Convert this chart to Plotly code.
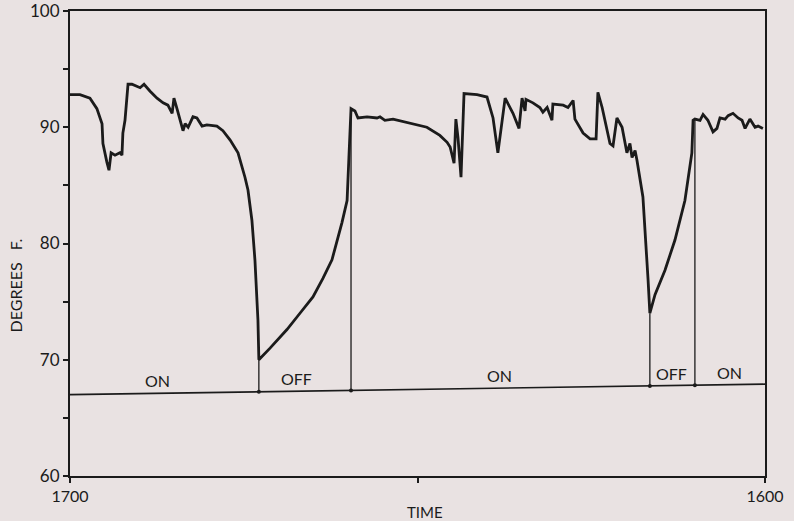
import numpy as np
import plotly.graph_objects as go

# Time in hours after 1700 (chart runs 1700 -> 1600 next day), temperature in deg F
hours = [0.00, 0.33, 0.66, 0.89, 1.06, 1.09, 1.22, 1.29, 1.36, 1.49, 1.65, 1.72, 1.75, 1.82,
         1.92, 2.05, 2.32, 2.45, 2.65, 2.88, 3.08, 3.24, 3.38, 3.44, 3.54, 3.74, 3.81, 3.91,
         4.07, 4.20, 4.37, 4.53, 4.86, 5.06, 5.30, 5.56, 5.79, 5.89, 6.02, 6.12, 6.22, 6.25,
         6.62, 7.18, 7.61, 8.04, 8.37, 8.67, 9.00, 9.17, 9.23, 9.30, 9.43, 9.53, 9.83, 10.16,
         10.26, 10.42, 10.69, 11.02, 11.35, 11.81, 12.24, 12.48, 12.58, 12.71, 12.77, 12.84,
         12.94, 13.04, 13.47, 13.80, 14.00, 14.16, 14.40, 14.66, 14.86, 14.96, 15.06, 15.09,
         15.32, 15.55, 15.65, 15.79, 15.95, 15.98, 16.32, 16.48, 16.65, 16.71, 16.98, 17.21,
         17.41, 17.47, 17.61, 17.87, 17.97, 18.10, 18.27, 18.43, 18.53, 18.60, 18.70, 18.76,
         18.96, 19.06, 19.13, 19.19, 19.36, 19.69, 20.02, 20.35, 20.58, 20.62, 20.68, 20.85,
         20.95, 21.11, 21.28, 21.41, 21.51, 21.68, 21.78, 21.94, 22.11, 22.24, 22.34, 22.50,
         22.67, 22.77, 22.93]
temps = [92.8, 92.8, 92.5, 91.6, 90.3, 88.6, 87.0, 86.3, 87.8, 87.6, 87.8, 87.6, 89.5, 90.6,
         93.7, 93.7, 93.4, 93.7, 93.1, 92.5, 92.1, 91.9, 91.2, 92.5, 91.6, 89.7, 90.3, 90.0,
         90.9, 90.8, 90.1, 90.2, 90.1, 89.7, 88.9, 87.8, 85.7, 84.6, 82.0, 78.6, 73.4, 70.0,
         71.0, 72.6, 74.0, 75.4, 77.0, 78.6, 81.8, 83.7, 87.4, 91.6, 91.4, 90.8, 90.9, 90.8,
         90.9, 90.6, 90.7, 90.5, 90.3, 90.0, 89.3, 88.7, 88.3, 86.9, 90.7, 89.1,
         85.7, 92.9, 92.8, 92.6, 90.8, 87.8, 92.5, 91.2, 89.9, 92.5, 91.4, 92.4,
         92.1, 91.7, 91.3, 91.7, 90.6, 92.0, 91.9, 91.7, 92.3, 90.7, 89.5, 89.0,
         89.0, 93.0, 91.7, 88.6, 88.4, 90.8, 90.0, 87.8, 88.6, 87.4, 88.0, 87.2,
         84.0, 80.3, 76.9, 74.0, 75.6, 77.7, 80.3, 83.7, 87.8, 90.6, 90.7, 90.6,
         91.1, 90.6, 89.6, 89.9, 90.8, 90.7, 91.0, 91.2, 90.8, 90.6, 89.9, 90.7,
         90.0, 90.1, 89.9]

# Heater status line (ON/OFF record) and switching times
status_hours = [0.0, 23.0]
status_level = [67.0, 67.9]
switch_hours = [6.25, 9.30, 19.19, 20.68]
status_labels = ["ON", "OFF", "ON", "OFF", "ON"]
label_hours = [2.88, 7.51, 14.23, 19.92, 21.84]

x_tickvals = [0, 11.5, 23]
x_ticktext = ["1700", "", "1600"]
y_tickvals = [60, 65, 70, 75, 80, 85, 90, 95, 100]
y_ticktext = ["60", "", "70", "", "80", "", "90", "", "100"]

INK = "#1b1b1b"
BG = "#e9e2e2"
FONT = "Lato"

fig = go.Figure()

# temperature trace
fig.add_trace(go.Scatter(x=hours, y=temps, mode="lines",
                         line=dict(color=INK, width=2.8), hoverinfo="skip"))

# status line
fig.add_trace(go.Scatter(x=status_hours, y=status_level, mode="lines",
                         line=dict(color=INK, width=1.6), hoverinfo="skip"))

# vertical switch lines from curve down to status line
vx, vy = [], []
for t in switch_hours:
    top = float(np.interp(t, hours, temps))
    bot = float(np.interp(t, status_hours, status_level))
    vx += [t, t, None]
    vy += [top, bot, None]
fig.add_trace(go.Scatter(x=vx, y=vy, mode="lines",
                         line=dict(color=INK, width=1.3), hoverinfo="skip"))

# small marks on status line at switches
fig.add_trace(go.Scatter(x=switch_hours,
                         y=[float(np.interp(t, status_hours, status_level)) for t in switch_hours],
                         mode="markers", marker=dict(color=INK, size=4, symbol="circle"),
                         hoverinfo="skip"))

for lab, t in zip(status_labels, label_hours):
    fig.add_annotation(x=t, y=float(np.interp(t, status_hours, status_level)),
                       text=lab, showarrow=False, yanchor="bottom", yshift=1,
                       font=dict(family=FONT, size=16, color=INK))

fig.add_annotation(xref="paper", yref="paper", x=-0.079, y=0.41, text="DEGREES   F.",
                   textangle=-90, showarrow=False, xanchor="center", yanchor="middle",
                   font=dict(family=FONT, size=16, color=INK))
fig.add_annotation(xref="paper", yref="paper", x=0.511, y=-0.056, text="TIME",
                   showarrow=False, yanchor="top", xanchor="center", borderpad=0,
                   font=dict(family=FONT, size=15, color=INK))

fig.update_layout(
    width=794, height=521,
    margin=dict(l=70, r=29, t=11, b=45),
    paper_bgcolor=BG, plot_bgcolor=BG,
    showlegend=False,
    font=dict(family=FONT, size=17, color=INK),
    xaxis=dict(range=[0, 23], tickvals=x_tickvals, ticktext=x_ticktext,
               automargin=False, ticklabeloverflow="allow",
               showgrid=False, zeroline=False, showline=True, linecolor=INK,
               linewidth=2, mirror=True, ticks="outside", ticklen=5, tickwidth=2,
               tickcolor=INK, tickfont=dict(family=FONT, size=16, color=INK)),
    yaxis=dict(range=[60, 100], tickvals=y_tickvals, ticktext=y_ticktext,
               automargin=False, ticklabeloverflow="allow",
               showgrid=False, zeroline=False, showline=True, linecolor=INK,
               linewidth=2, mirror=True, ticks="outside", ticklen=5, tickwidth=2,
               tickcolor=INK, ticklabelstandoff=0,
               tickfont=dict(family=FONT, size=17, color=INK)),
)

fig.write_html("out.html", config={"displayModeBar": False},
               post_script="document.body.style.margin='0';document.body.style.overflow='hidden';document.body.style.background='" + BG + "';")
